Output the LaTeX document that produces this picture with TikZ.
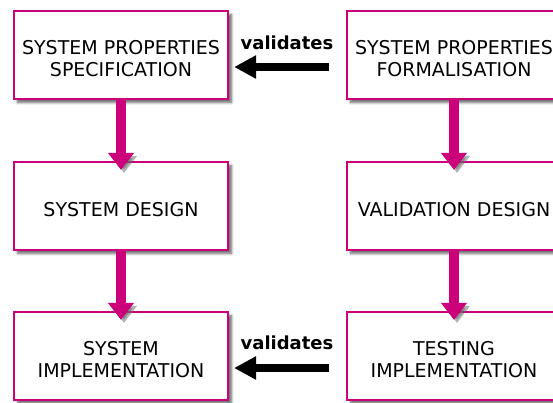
\documentclass[tikz,border=0pt]{standalone}
\usepackage{fontspec}
\setmainfont{DejaVu Sans}
\usetikzlibrary{arrows.meta,shadows.blur}
\definecolor{mag}{RGB}{204,0,122}
\newcommand{\bt}[1]{\raisebox{-6pt}[\height][\depth]{\begin{tabular}{@{}c@{}}#1\end{tabular}}}
\tikzset{
  box/.style={draw=mag, line width=2.2pt, fill=white, minimum width=214pt, minimum height=88pt,
    align=center, inner sep=0pt, font=\fontsize{19}{22}\selectfont,
    blur shadow={shadow xshift=3.5pt, shadow yshift=-3.5pt, shadow blur steps=6, shadow opacity=60, shadow blur radius=2.5pt}},
  flow/.style={draw=mag, line width=10pt, -{Triangle[width=25pt,length=17pt]},
    preaction={draw=black!60, opacity=0.5, transform canvas={xshift=3pt,yshift=-3pt}}},
  valarrow/.style={draw=black, line width=8pt, -{Triangle[width=22pt,length=22pt]}},
  vlabel/.style={font=\fontsize{18}{20}\selectfont\bfseries, inner sep=0pt}
}
\begin{document}
\begin{tikzpicture}[x=1pt,y=1pt]
\useasboundingbox (0,0) rectangle (553,402);
\node[box] (A) at (121,347) {\bt{SYSTEM PROPERTIES\\SPECIFICATION}};
\node[box] (B) at (121,196) {\bt{SYSTEM DESIGN}};
\node[box] (C) at (121,46) {\bt{SYSTEM\\IMPLEMENTATION}};
\node[box] (D) at (454,347) {\bt{SYSTEM PROPERTIES\\FORMALISATION}};
\node[box] (E) at (454,196) {\bt{VALIDATION DESIGN}};
\node[box] (F) at (454,46) {\bt{TESTING\\IMPLEMENTATION}};
\draw[flow] (A.south) -- ([yshift=-9pt]B.north);
\draw[flow] (B.south) -- ([yshift=-9pt]C.north);
\draw[flow] (D.south) -- ([yshift=-9pt]E.north);
\draw[flow] (E.south) -- ([yshift=-9pt]F.north);
\draw[valarrow] ([xshift=-17pt,yshift=-12pt]D.west) -- ([xshift=5pt,yshift=-12pt]A.east);
\draw[valarrow] ([xshift=-17pt,yshift=-12pt]F.west) -- ([xshift=5pt,yshift=-12pt]C.east);
\node[vlabel] (L1) at (287,359) {validates};
\node[vlabel] (L2) at (287,59) {validates};
\end{tikzpicture}
\end{document}
